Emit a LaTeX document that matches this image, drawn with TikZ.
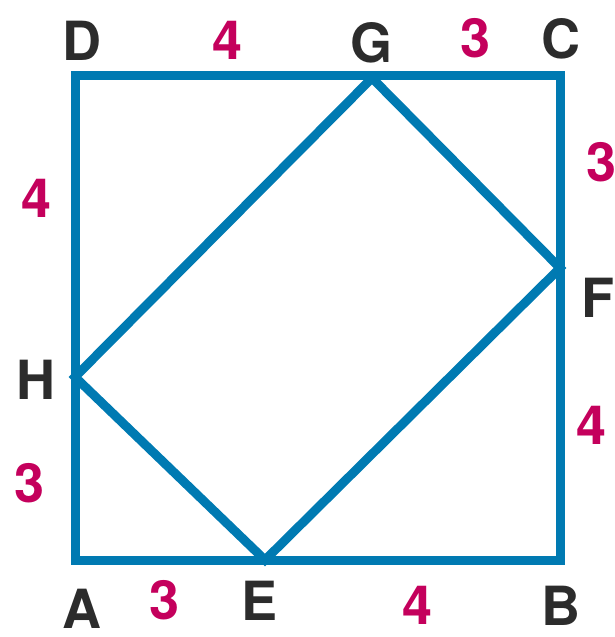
\documentclass[tikz,border=0pt]{standalone}
\usepackage{fontspec}
\setmainfont{TeX Gyre Heros}
\definecolor{sqblue}{RGB}{0,122,178}
\definecolor{lenred}{RGB}{196,0,92}
\definecolor{ptgray}{RGB}{44,44,44}
\tikzset{
  vlabel/.style={text=ptgray,inner sep=0pt,font=\fontsize{54}{54}\selectfont\bfseries},
  slabel/.style={text=lenred,inner sep=0pt,font=\fontsize{54}{54}\selectfont\bfseries},
  edge/.style={draw=sqblue,line width=9pt,line join=miter}
}
\begin{document}
\begin{tikzpicture}[x=1pt,y=-1pt]
  \useasboundingbox (0,0) rectangle (615,637);
  \path
    (75,560) coordinate (A)
    (560,560) coordinate (B)
    (560,75) coordinate (C)
    (75,75) coordinate (D)
    (265,560) coordinate (E)
    (560,268) coordinate (F)
    (372,78) coordinate (G)
    (75,377) coordinate (H);
  \begin{scope}[edge]
    \draw (A) -- (B) -- (C) -- (D) -- cycle;
    \draw (E) -- (F) -- (G) -- (H) -- cycle;
  \end{scope}
  % vertex names
  \path
    (82,41) node[vlabel] (lD){D}
    (372,43) node[vlabel] (lG){G}
    (561,39) node[vlabel] (lC){C}
    (598,298) node[vlabel] (lF){F}
    (36,380) node[vlabel] (lH){H}
    (82,609) node[vlabel] (lA){A}
    (260,601) node[vlabel] (lE){E}
    (561,606) node[vlabel] (lB){B};
  % side lengths
  \path
    (228,40) node[slabel] (sDG){4}
    (476,38) node[slabel] (sGC){3}
    (602,162) node[slabel] (sCF){3}
    (592,425) node[slabel] (sFB){4}
    (37,198) node[slabel] (sDH){4}
    (30,483) node[slabel] (sHA){3}
    (165,600) node[slabel] (sAE){3}
    (418,605) node[slabel] (sEB){4};
\end{tikzpicture}
\end{document}
